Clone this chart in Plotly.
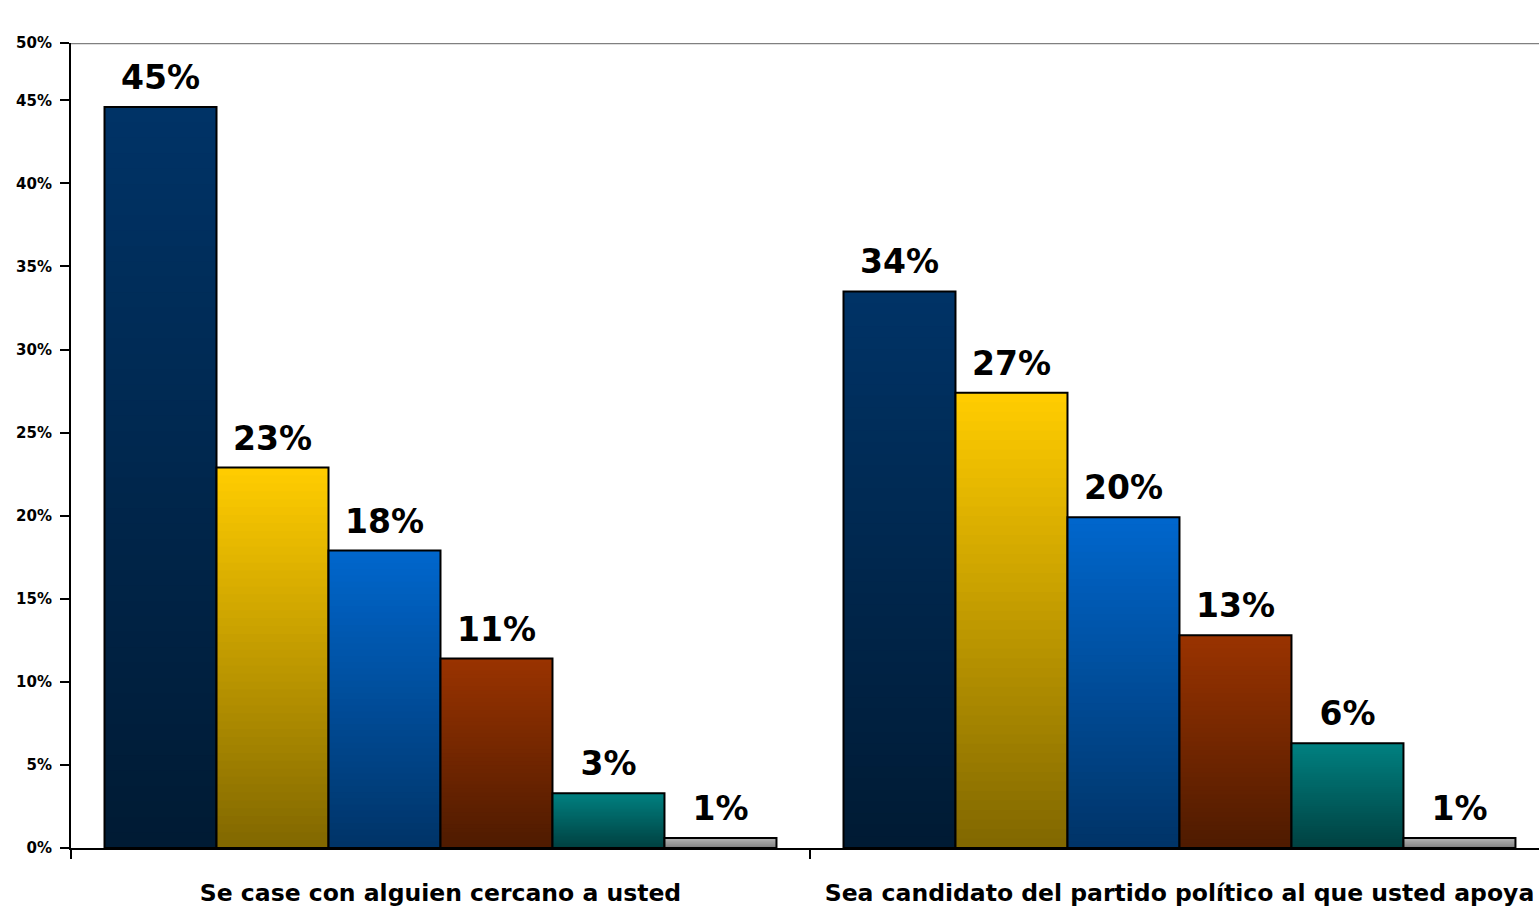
import plotly.graph_objects as go

# data (percent)
categories = [
    "Se case con alguien cercano a usted",
    "Sea candidato del partido político al que usted apoya",
]
series_names = ["Serie 1", "Serie 2", "Serie 3", "Serie 4", "Serie 5", "Serie 6"]
serie_1 = [44.6, 33.5]
serie_2 = [22.9, 27.4]
serie_3 = [17.9, 19.9]
serie_4 = [11.4, 12.8]
serie_5 = [3.3, 6.3]
serie_6 = [0.6, 0.6]
label_1 = ["45%", "34%"]
label_2 = ["23%", "27%"]
label_3 = ["18%", "20%"]
label_4 = ["11%", "13%"]
label_5 = ["3%", "6%"]
label_6 = ["1%", "1%"]

y_tickvals = [0, 5, 10, 15, 20, 25, 30, 35, 40, 45]
y_ticktext = ["0%", "5%", "10%", "15%", "20%", "25%", "30%", "35%", "40%", "45%"]
y_top = 48.45
y_top_text = "50%"

# colours: top of bar -> bottom of bar (vertical gradient)
TOP_COLORS = ["#003366", "#ffcc00", "#0066cc", "#993300", "#008080", "#b4b4b4"]
BOTTOM_COLORS = ["#001a33", "#7f6600", "#003366", "#4d1a00", "#004040", "#808080"]
FONT = "DejaVu Sans, Verdana, sans-serif"
STEPS = 48
GAP = 0.0907


def _hex(c):
    c = c.lstrip("#")
    return [int(c[i:i + 2], 16) for i in (0, 2, 4)]


def _mix(top, bottom, f):
    a, b = _hex(top), _hex(bottom)
    r = [round(b[i] + (a[i] - b[i]) * f) for i in range(3)]
    return f"rgb({r[0]},{r[1]},{r[2]})"


values = [serie_1, serie_2, serie_3, serie_4, serie_5, serie_6]
labels = [label_1, label_2, label_3, label_4, label_5, label_6]

fig = go.Figure()

for i, (name, vals) in enumerate(zip(series_names, values)):
    # gradient: overlay progressively shorter, darker copies of the bar
    for k in range(STEPS, 0, -1):
        f = k / STEPS
        fig.add_trace(go.Bar(
            x=categories,
            y=[v * f for v in vals],
            offsetgroup=str(i),
            marker=dict(color=_mix(TOP_COLORS[i], BOTTOM_COLORS[i], f), line=dict(width=0)),
            showlegend=False,
            hoverinfo="skip",
        ))
    # outline
    fig.add_trace(go.Bar(
        x=categories,
        y=vals,
        name=name,
        offsetgroup=str(i),
        marker=dict(color="rgba(0,0,0,0)", line=dict(color="black", width=2)),
        showlegend=False,
    ))
    # value label, grouped the same way as the bars
    fig.add_trace(go.Scatter(
        x=categories,
        y=vals,
        offsetgroup=str(i),
        mode="markers+text",
        marker=dict(size=14, opacity=0),
        text=labels[i],
        textposition="top center",
        textfont=dict(family=FONT, size=33, color="black", weight="bold"),
        cliponaxis=False,
        showlegend=False,
        hoverinfo="skip",
    ))

fig.update_layout(
    width=1539,
    height=911,
    barmode="group",
    bargap=GAP,
    bargroupgap=0,
    scattermode="group",
    scattergap=GAP,
    plot_bgcolor="white",
    paper_bgcolor="white",
    font=dict(family=FONT, color="black"),
    margin=dict(l=71, r=0, t=43, b=63),
    shapes=[dict(
        type="line", xref="paper", yref="y", x0=0, x1=1, y0=y_top, y1=y_top,
        line=dict(color="#808080", width=2.5), layer="below",
    )],
)
fig.update_xaxes(
    type="category",
    range=[-0.5, 1.4865],
    tickson="boundaries",
    ticks="outside",
    ticklen=9,
    tickwidth=2,
    tickcolor="black",
    showline=True,
    linecolor="black",
    linewidth=2,
    showgrid=False,
    automargin=False,
    tickfont=dict(family=FONT, size=23.5, color="black", weight="bold"),
    ticklabelstandoff=23,
)
fig.update_yaxes(
    range=[0, y_top],
    tickvals=y_tickvals + [y_top],
    ticktext=y_ticktext + [y_top_text],
    ticks="outside",
    ticklen=9,
    tickwidth=2,
    tickcolor="black",
    showline=True,
    linecolor="black",
    linewidth=2,
    showgrid=False,
    zeroline=False,
    automargin=False,
    tickfont=dict(family=FONT, size=15, color="black", weight="bold"),
    ticklabelstandoff=5,
)

# the page's default 8px body margin would shift the figure
fig.write_html(
    "out.html",
    config=dict(displayModeBar=False),
    post_script="document.body.style.margin = '0';",
)
